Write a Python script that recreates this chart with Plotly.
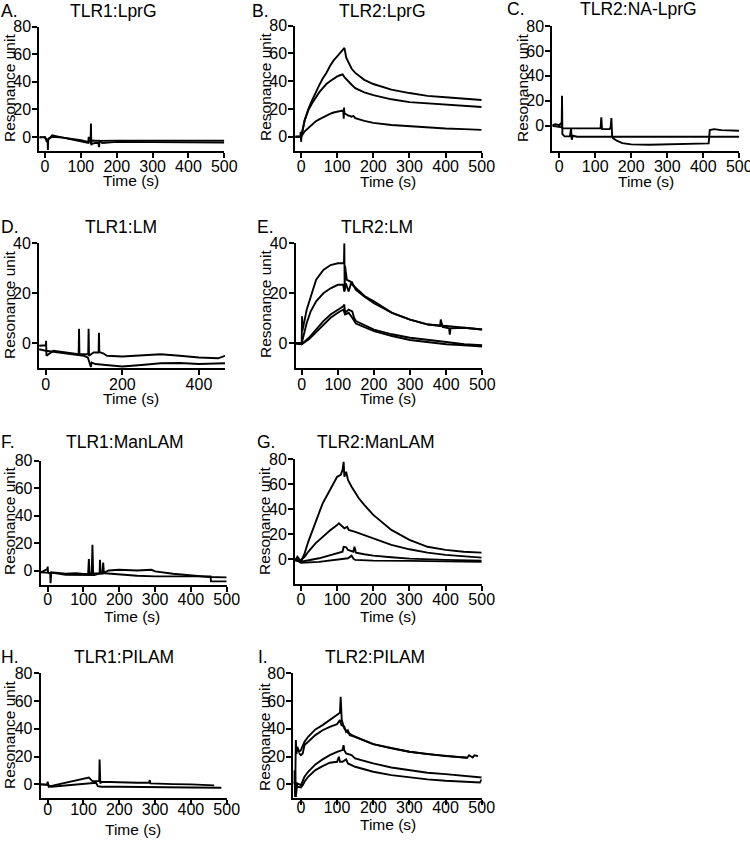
import plotly.graph_objects as go

# ---------------- DATA ----------------
Y_TICKS_80 = [0, 20, 40, 60, 80]
Y_TICKS_40 = [0, 20, 40]
X_TICKS_100 = [0, 100, 200, 300, 400, 500]
X_TICKS_200 = [0, 200, 400]

# A. TLR1:LprG
A_t1 = [-16, 0, 5, 7, 8, 9, 12, 20, 40, 60, 100, 120, 122, 125, 127, 128, 129, 130, 140, 149, 150, 151, 152, 160, 200, 300, 400, 500]
A_y1 = [0, -0.5, -2, -2, -9.5, -2, -1, 1.2, 0, -1.2, -3.6, -4.4, 0, -4.8, -4.8, 9.7, -6, -5, -4.4, -4.4, -6.8, -6.8, -3, -4.4, -3.6, -3.6, -3.6, -4.1]
A_t2 = [-16, 0, 5, 10, 20, 50, 100, 120, 130, 150, 200, 300, 400, 500]
A_y2 = [-0.5, 0, -3.6, -1.2, 0, -0.5, -2.4, -3.6, -2.6, -2.9, -2.7, -2.7, -2.7, -2.7]

# B. TLR2:LprG
B_t1 = [-16, -2, -1, 0, 1, 10, 20, 30, 40, 50, 60, 70, 80, 90, 100, 110, 120, 125, 130, 140, 150, 160, 175, 200, 250, 300, 350, 400, 450, 500]
B_y1 = [0, 0, 3.6, -3.6, 0, 12, 20, 26, 32, 37, 42, 46, 51, 55, 58, 61, 64, 57, 54, 49, 46, 44, 41, 38, 34, 31.5, 29.5, 28.5, 27.5, 26.5]
B_t2 = [-16, 0, 10, 20, 30, 40, 50, 60, 70, 80, 90, 100, 110, 115, 120, 130, 140, 150, 175, 200, 250, 300, 350, 400, 450, 500]
B_y2 = [0, 0, 12, 19, 24, 28, 32, 35, 38, 40, 42, 43.5, 44.5, 45, 43, 40, 37.5, 35, 32, 30, 27, 25, 24, 23, 22, 21.5]
B_t3 = [-16, 0, 10, 20, 30, 40, 50, 60, 70, 80, 90, 100, 110, 117, 118, 119, 120, 130, 140, 145, 150, 175, 200, 250, 300, 350, 400, 450, 500]
B_y3 = [0, 0, 4, 6.5, 9, 11, 12.5, 14, 15.5, 16.5, 17.5, 18, 18.5, 19, 13, 21, 17, 15.5, 14.5, 15, 13.5, 11.5, 10, 8.5, 7.5, 6.5, 6, 5.5, 5]

# C. TLR2:NA-LprG
C_t1 = [-19, -10, 0, 5, 7, 8, 9, 15, 30, 33, 35, 38, 50, 100, 150, 200, 300, 400, 500]
C_y1 = [0.5, 1.3, 0.5, 1.9, 0, 24, -6.7, -8.5, -8.5, -2.1, -11.2, -8, -8.8, -8.8, -9.3, -9.3, -8.8, -8.8, -8.8]
C_t2 = [-19, 0, 8, 10, 50, 100, 115, 117, 119, 140, 143, 145, 147, 150, 160, 175, 200, 250, 300, 350, 400, 415, 418, 430, 450, 500]
C_y2 = [0, -0.5, -1.3, -2.1, -2.1, -2.7, -2.1, 6.7, -2.7, -2.7, -1, 6.1, -8, -10.1, -12, -13.9, -14.9, -15.2, -14.9, -14.7, -14.1, -14.1, -3.5, -2.7, -3.5, -4]

# D. TLR1:LM
D_t1 = [-17, 0, 1, 2, 20, 50, 86, 87, 88, 100, 111, 112, 113, 125, 138, 139, 140, 150, 160, 200, 300, 350, 400, 450, 468]
D_y1 = [-1, -0.8, 1, -5, -3, -3.7, -4.4, 5.8, -4.4, -4.4, -4.4, 5.8, -5, -3.7, -3.7, 4.2, -3.5, -4, -5, -5.3, -4.4, -5, -5.7, -6, -5]
D_t2 = [-17, 0, 50, 100, 110, 118, 120, 130, 150, 200, 250, 300, 350, 400, 468]
D_y2 = [-2.4, -3, -4, -5, -5.7, -9.5, -7.7, -8.3, -8.6, -9.3, -8.7, -8, -7.9, -8.3, -8]

# E. TLR2:LM
E_t1 = [-16, 0, 1, 2, 14, 25, 40, 60, 80, 100, 115, 117, 118, 119, 120, 125, 135, 140, 150, 175, 200, 250, 300, 350, 400, 450, 500]
E_y1 = [0, 0, 10.8, 5, 13.5, 18.8, 25.4, 29.3, 31.3, 32, 32, 32, 40, 21, 31, 25.4, 24.7, 23.4, 22, 18.8, 16.8, 12.2, 9.5, 7.5, 6.9, 6.2, 5.5]
E_t2 = [-16, 0, 14, 25, 40, 60, 80, 100, 115, 118, 122, 130, 138, 145, 150, 175, 200, 250, 300, 350, 383, 385, 390, 408, 410, 412, 450, 500]
E_y2 = [0, 0, 8.2, 12.8, 16.8, 20, 22, 23.4, 23.4, 20.7, 24, 20.7, 24.7, 22.7, 21.4, 18.5, 16, 12.2, 9.5, 7.5, 6.9, 9.5, 6.5, 6, 3.5, 6, 6.2, 5.5]
E_t3 = [-16, 0, 20, 40, 60, 80, 100, 115, 118, 120, 130, 140, 145, 150, 200, 250, 300, 340, 400, 450, 500]
E_y3 = [0, -0.4, 2.2, 5.5, 8.9, 11.5, 13.5, 14.8, 15.5, 12.2, 13.5, 12.8, 10.2, 8.9, 5.5, 3.6, 2.2, 1.6, 0.5, -0.4, -0.8]
E_t4 = [-16, 0, 20, 40, 60, 80, 100, 115, 120, 130, 140, 150, 200, 250, 300, 350, 400, 450, 500]
E_y4 = [0, -0.4, 1.6, 4.5, 7.5, 10.2, 12.2, 13.5, 11.5, 12.2, 10.2, 7.9, 4.9, 2.9, 1.3, 0.5, -0.4, -0.8, -1.3]

# F. TLR1:ManLAM
F_t1 = [-19, -1, 0, 1, 5, 7, 8, 9, 10, 50, 80, 100, 113, 115, 117, 123, 125, 127, 140, 145, 146, 148, 153, 155, 157, 170, 200, 250, 290, 300, 350, 400, 450, 500]
F_y1 = [-1.2, 1.2, 3, -1.2, -1.7, -1.7, -9, -1.7, -1.2, -2.2, -1.7, -2.4, -2.4, 8.5, -2, -2, 18.9, -2, -2, -2, 8, -2, -2, 6, -1.5, 0.2, 0.7, 0.2, 0.7, -0.5, -2.2, -3.4, -4.6, -4.8]
F_t2 = [-19, 20, 50, 100, 130, 150, 200, 250, 300, 350, 400, 455, 456, 500]
F_y2 = [-1.2, -1.7, -2.9, -3.1, -3.1, -1.7, -2.9, -3.6, -4.1, -4.1, -4.1, -4.1, -7.7, -7.7]

# G. TLR2:ManLAM
G_t1 = [-16, -10, 0, 10, 20, 30, 40, 50, 60, 70, 80, 90, 100, 110, 115, 118, 120, 125, 130, 140, 150, 160, 175, 200, 250, 300, 350, 400, 450, 500]
G_y1 = [-1, 2, -1.9, 4.8, 14, 22, 30, 38, 44.8, 50, 55.5, 61.3, 66, 67.5, 71.5, 78, 66, 70, 63.5, 58, 52.8, 48.8, 43.5, 35.5, 23.5, 15.5, 10, 7.5, 6, 5.3]
G_t2 = [-16, 0, 10, 20, 40, 60, 80, 100, 105, 110, 120, 128, 132, 150, 175, 200, 250, 300, 350, 400, 450, 500]
G_y2 = [0, -0.5, 2, 6, 12.8, 18, 23, 27.5, 28.8, 27.5, 24.8, 26, 23.5, 22, 19.5, 16.8, 11.5, 8, 5.3, 3.5, 2.1, 1.3]
G_t3 = [-16, 0, 50, 100, 115, 118, 125, 130, 145, 148, 152, 175, 200, 250, 300, 400, 500]
G_y3 = [-1, -1.9, 0.8, 4.8, 6.1, 10, 9.6, 7.5, 6.1, 10, 5.3, 4, 2.9, 1.6, 0.5, -0.5, -1.1]
G_t4 = [-16, 0, 50, 100, 115, 130, 140, 145, 150, 200, 300, 400, 500]
G_y4 = [0, -2.7, -2.1, -0.5, 0.5, 0.8, 2.9, 0.5, -0.5, -1.1, -1.3, -1.9, -2.1]

# H. TLR1:PILAM
H_t1 = [-19, -1, 0, 3, 20, 50, 80, 110, 115, 120, 125, 140, 144, 145, 147, 150, 200, 250, 283, 285, 287, 300, 350, 400, 450, 465]
H_y1 = [0, 0, 2, -1.7, -0.5, 1.2, 3.1, 4.8, 5, 3.6, 2.4, 2.4, 2.4, 18, 0.7, 1.9, 1.4, 1.2, 1.2, 3.1, 0.7, 0.7, 0.2, 0, -0.2, -0.7]
H_t2 = [-19, 0, 10, 50, 100, 120, 135, 140, 150, 200, 300, 400, 485]
H_y2 = [0, -0.5, -1.7, -0.7, 0.2, 1.2, 1.2, -1.2, -1.7, -1.7, -1.7, -2.2, -2.4]

# I. TLR2:PILAM
I_t1 = [-18, -16, -14, -12, -10, -5, 0, 5, 10, 20, 40, 60, 80, 100, 108, 110, 113, 120, 130, 150, 200, 250, 300, 350, 400, 460, 465, 475, 480, 490]
I_y1 = [10, -9, 32, 22, 27, 23.5, 24.7, 28.3, 30.7, 34.3, 39.6, 42.7, 46.3, 49.9, 51.6, 63, 46.3, 40.3, 37.2, 34.3, 29, 25.9, 23.5, 21.8, 20.4, 19.2, 21, 19.4, 21, 20.4]
I_t2 = [-5, 0, 5, 10, 20, 40, 60, 80, 100, 108, 112, 120, 125, 130, 135, 150, 200, 300, 400, 460]
I_y2 = [22.3, 21, 22.3, 28.3, 30.7, 35.5, 39, 41.5, 43.4, 46.3, 42.7, 41.5, 37.9, 39, 35.5, 34.3, 29, 23.5, 20.4, 19.2]
I_t3 = [-18, -16, -14, -10, 0, 5, 10, 20, 40, 60, 80, 100, 115, 118, 120, 125, 140, 150, 200, 250, 300, 350, 400, 450, 500]
I_y3 = [0, 10, -9, 0.7, -0.5, 3.1, 5.5, 9.1, 14.4, 18, 21.1, 23.5, 24.7, 28.3, 24.7, 22.3, 21.1, 18.7, 15.1, 12.2, 10.3, 8.4, 7.4, 6.2, 5]
I_t4 = [-10, 0, 5, 10, 20, 40, 60, 80, 100, 105, 108, 115, 125, 130, 150, 200, 250, 300, 350, 400, 450, 495, 500]
I_y4 = [-1.7, -2.2, -0.5, 1.9, 5.5, 10.3, 13.2, 15.6, 16.3, 19.9, 16.3, 16.3, 18, 15.1, 12.7, 9.1, 6.7, 5, 3.6, 2.6, 1.9, 1.4, 3.6]

# ---------------- LAYOUT ----------------
W, H = 750, 841
FONT = "Arial, Liberation Sans, sans-serif"


def px(x):
    return x / W


def py(y):
    return 1 - y / H


panels = [
    # letter, title, curves, xdom(px), ydom(px top,bottom), xrange, yrange, yticks, xticks,
    # title center (x,y), letter x, time label (x,y), resonance label (x,y), x ticklabel standoff
    ("A.", "TLR1:LprG", [(A_t1, A_y1), (A_t2, A_y2)], (39.3, 224.3), (26.7, 150.7), (-16, 500), (-10, 80), Y_TICKS_80, X_TICKS_100, (113, 11), 0, (131, 180), (9, 88), -5),
    ("B.", "TLR2:LprG", [(B_t1, B_y1), (B_t2, B_y2), (B_t3, B_y3)], (295.3, 481.7), (25.7, 150.7), (-16, 500), (-10, 80), Y_TICKS_80, X_TICKS_100, (382, 11), 251, (388, 181), (266, 87), -5),
    ("C.", "TLR2:NA-LprG", [(C_t1, C_y1), (C_t2, C_y2)], (552.3, 739.3), (26, 150.7), (-19, 500), (-20, 80), Y_TICKS_80, X_TICKS_100, (638, 9), 506, (646, 182), (522, 88), -5),
    ("D.", "TLR1:LM", [(D_t1, D_y1), (D_t2, D_y2)], (39, 225), (243.3, 368.3), (-17.5, 468), (-10, 40), Y_TICKS_40, X_TICKS_200, (121, 227), 0, (131, 398), (9, 305), -5),
    ("E.", "TLR2:LM", [(E_t1, E_y1), (E_t2, E_y2), (E_t3, E_y3), (E_t4, E_y4)], (295.7, 482.3), (243.3, 368.3), (-16.6, 500), (-10, 40), Y_TICKS_40, X_TICKS_100, (377, 227), 256, (388, 398), (266, 304), -5),
    ("F.", "TLR1:ManLAM", [(F_t1, F_y1), (F_t2, F_y2)], (40.7, 226.7), (460.7, 584.5), (-19.5, 500), (-10, 80), Y_TICKS_80, X_TICKS_100, (125, 442), 0, (132, 616), (9, 521), -6),
    ("G.", "TLR2:ManLAM", [(G_t1, G_y1), (G_t2, G_y2), (G_t3, G_y3), (G_t4, G_y4)], (295, 481.7), (459.3, 584.3), (-16.6, 500), (-20, 80), Y_TICKS_80, X_TICKS_100, (376, 442), 256, (388, 616), (264, 521), -6),
    ("H.", "TLR1:PILAM", [(H_t1, H_y1), (H_t2, H_y2)], (40.7, 226.7), (673.3, 798.3), (-19.5, 500), (-10, 80), Y_TICKS_80, X_TICKS_100, (124, 657), 0, (133, 829), (9, 735), -10),
    ("I.", "TLR2:PILAM", [(I_t1, I_y1), (I_t2, I_y2), (I_t3, I_y3), (I_t4, I_y4)], (293.3, 481.7), (673.3, 798.3), (-21, 500), (-10, 80), Y_TICKS_80, X_TICKS_100, (375, 657), 257, (388, 824), (264, 737), -12),
]

fig = go.Figure()
annotations = []
layout_axes = {}

for i, (letter, title, curves, xd, yd, xr, yr, yt, xt, tpos, lx, timepos, respos, xstand) in enumerate(panels):
    n = i + 1
    xa = "x" if n == 1 else f"x{n}"
    ya = "y" if n == 1 else f"y{n}"
    for (t, v) in curves:
        fig.add_trace(go.Scatter(x=t, y=v, mode="lines", xaxis=xa, yaxis=ya,
                                 line=dict(color="black", width=1.9), showlegend=False,
                                 hoverinfo="skip"))
    axis_common = dict(showline=True, linecolor="black", linewidth=2, ticks="outside",
                       ticklen=5, tickwidth=2, tickcolor="black", showgrid=False,
                       zeroline=False, automargin=False, ticklabeloverflow="allow",
                       tickfont=dict(family=FONT, size=16, color="black"))
    layout_axes["xaxis" if n == 1 else f"xaxis{n}"] = dict(
        domain=[px(xd[0]), px(xd[1])], range=list(xr), tickvals=xt, anchor=ya,
        ticklabelstandoff=xstand, **axis_common)
    layout_axes["yaxis" if n == 1 else f"yaxis{n}"] = dict(
        domain=[py(yd[1]), py(yd[0])], range=list(yr), tickvals=yt, anchor=xa,
        ticklabelstandoff=-2, **axis_common)

    annotations.append(dict(text=title, x=px(tpos[0]), y=py(tpos[1]), xref="paper", yref="paper",
                            xanchor="center", yanchor="middle", showarrow=False,
                            font=dict(family=FONT, size=17.5, color="black")))
    annotations.append(dict(text=letter, x=px(lx), y=py(tpos[1]), xref="paper", yref="paper",
                            xanchor="left", yanchor="middle", showarrow=False, borderpad=0,
                            font=dict(family=FONT, size=17.5, color="black")))
    annotations.append(dict(text="Time (s)", x=px(timepos[0]), y=py(timepos[1]), xref="paper", yref="paper",
                            xanchor="center", yanchor="middle", showarrow=False,
                            font=dict(family=FONT, size=15.5, color="black")))
    annotations.append(dict(text="Resonance unit", x=px(respos[0]), y=py(respos[1]), xref="paper", yref="paper",
                            xanchor="center", yanchor="middle", showarrow=False, textangle=-90,
                            font=dict(family=FONT, size=15.5, color="black")))

fig.update_layout(template="none", width=W, height=H, margin=dict(l=0, r=0, t=0, b=0, autoexpand=False),
                  paper_bgcolor="white", plot_bgcolor="white",
                  annotations=annotations, **layout_axes)

fig.write_html("out.html", config={"displayModeBar": False},
               post_script="document.body.style.margin='0';")
